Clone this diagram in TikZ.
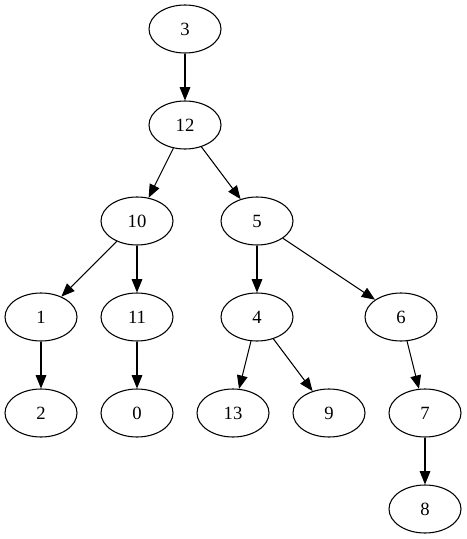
\documentclass[tikz,border=0pt]{standalone}
\usepackage{fontspec}
\setmainfont{Liberation Serif}
\usetikzlibrary{shapes.geometric,arrows.meta}
\begin{document}
\begin{tikzpicture}[x=0.75pt,y=-0.75pt,
  tnode/.style={draw,ellipse,minimum width=54pt,minimum height=36pt,inner sep=0pt,line width=0.8pt,font=\fontsize{14pt}{16pt}\selectfont},
  tedge/.style={line width=0.8pt,-{Triangle[length=10pt,width=8pt]}}]
\useasboundingbox (0,0) rectangle (467,539);
\node[tnode] (n3) at (185,29) {3};
\node[tnode] (n12) at (185,125) {12};
\node[tnode] (n10) at (137,221) {10};
\node[tnode] (n5) at (257,221) {5};
\node[tnode] (n1) at (41,317) {1};
\node[tnode] (n11) at (137,317) {11};
\node[tnode] (n4) at (257,317) {4};
\node[tnode] (n6) at (401,317) {6};
\node[tnode] (n2) at (41,413) {2};
\node[tnode] (n0) at (137,413) {0};
\node[tnode] (n13) at (233,413) {13};
\node[tnode] (n9) at (329,413) {9};
\node[tnode] (n7) at (425,413) {7};
\node[tnode] (n8) at (425,509) {8};
\draw[tedge] (n3) -- (n12);
\draw[tedge] (n12) -- (n10);
\draw[tedge] (n12) -- (n5);
\draw[tedge] (n10) -- (n1);
\draw[tedge] (n10) -- (n11);
\draw[tedge] (n5) -- (n4);
\draw[tedge] (n5) -- (n6);
\draw[tedge] (n1) -- (n2);
\draw[tedge] (n11) -- (n0);
\draw[tedge] (n4) -- (n13);
\draw[tedge] (n4) -- (n9);
\draw[tedge] (n6) -- (n7);
\draw[tedge] (n7) -- (n8);
\end{tikzpicture}
\end{document}
